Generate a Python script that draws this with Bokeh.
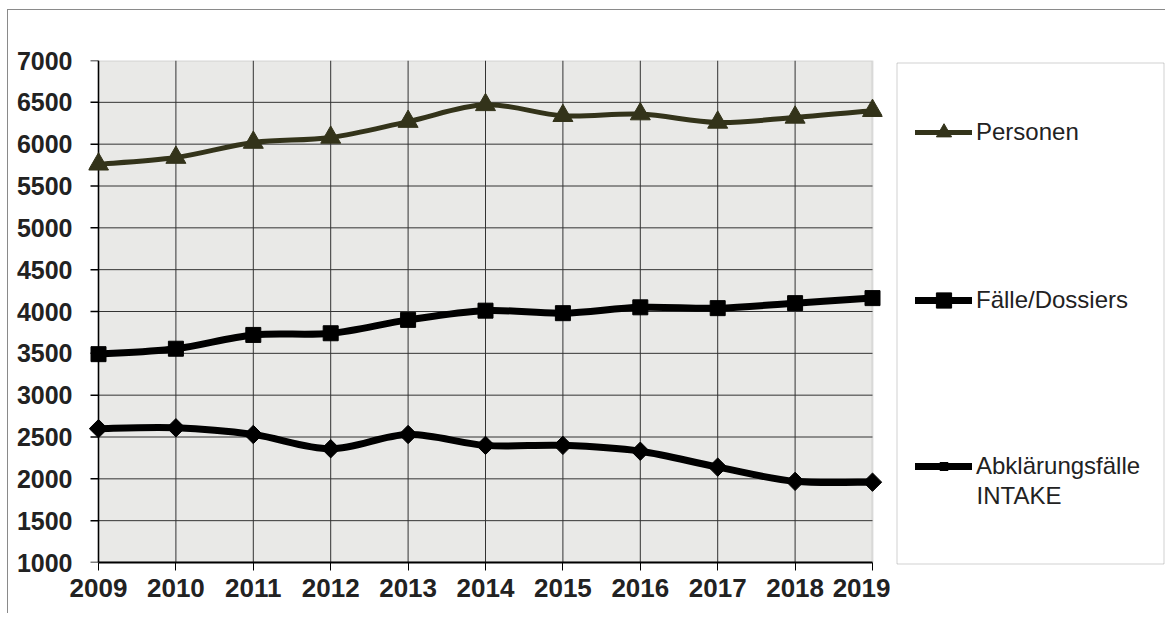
import numpy as np
from bokeh.plotting import figure
from bokeh.layouts import row, column
from bokeh.models import (Range1d, LinearAxis, FixedTicker, BoxAnnotation,
                          Legend, LegendItem, Label, Spacer)
from bokeh.embed import file_html
from bokeh.resources import INLINE

# ---- data ----
years = [2009, 2010, 2011, 2012, 2013, 2014, 2015, 2016, 2017, 2018, 2019]
personen = [5760, 5840, 6020, 6080, 6270, 6470, 6340, 6360, 6260, 6320, 6400]
faelle = [3490, 3555, 3720, 3740, 3900, 4010, 3980, 4050, 4040, 4100, 4160]
abklaerung = [2600, 2610, 2530, 2360, 2530, 2400, 2400, 2330, 2140, 1970, 1960]
y_ticks = [1000, 1500, 2000, 2500, 3000, 3500, 4000, 4500, 5000, 5500, 6000, 6500, 7000]
series_labels = ["Personen", "Fälle/Dossiers", "Abklärungsfälle"]
label_second_line = "INTAKE"

FONT = "Liberation Sans"
TXT = "#222222"
C_PERS = "#33331a"
C_BLACK = "#000000"


def smooth_segments(xs, ys):
    """Catmull-Rom style control points (Excel-like smoothed line)."""
    x = np.asarray(xs, float)
    y = np.asarray(ys, float)
    n = len(x)
    xp = np.concatenate([[x[0]], x, [x[-1]]])
    yp = np.concatenate([[y[0]], y, [y[-1]]])
    cx0 = x[:-1] + (xp[2:n + 1] - xp[0:n - 1]) / 6.0
    cy0 = y[:-1] + (yp[2:n + 1] - yp[0:n - 1]) / 6.0
    cx1 = x[1:] - (xp[3:n + 2] - xp[1:n]) / 6.0
    cy1 = y[1:] - (yp[3:n + 2] - yp[1:n]) / 6.0
    return dict(x0=x[:-1], y0=y[:-1], x1=x[1:], y1=y[1:],
                cx0=cx0, cy0=cy0, cx1=cx1, cy1=cy1)


px_per_year = 77.4
pad = 10 / px_per_year
tick_len = 8 / px_per_year

# ---------------- main chart ----------------
p = figure(frame_width=794, frame_height=502, output_backend="svg", toolbar_location=None,
           x_range=Range1d(years[0] - pad, years[-1] + pad),
           y_range=Range1d(y_ticks[0], y_ticks[-1]),
           x_axis_type=None, y_axis_type=None,
           min_border_left=80, min_border_right=8,
           min_border_top=50, min_border_bottom=48)
p.background_fill_color = "white"
p.border_fill_color = "white"
p.outline_line_color = None

# plot area (textured grey in original)
p.add_layout(BoxAnnotation(left=years[0], right=years[-1], bottom=y_ticks[0], top=y_ticks[-1],
                           fill_color="#e9e9e7", fill_alpha=1.0,
                           line_color="#9a9a9a", line_width=2, level="underlay"))

# grid lines
inner_y = y_ticks[1:-1]
p.segment(x0=[years[0]] * len(inner_y), x1=[years[-1]] * len(inner_y), y0=inner_y, y1=inner_y,
          line_color="#333333", line_width=1)
inner_x = years[1:-1]
p.segment(x0=inner_x, x1=inner_x, y0=[y_ticks[0]] * len(inner_x), y1=[y_ticks[-1]] * len(inner_x),
          line_color="#333333", line_width=1)

# value axis line + tick marks (at 2009)
p.segment(x0=[years[0] - tick_len] * len(y_ticks), x1=[years[0]] * len(y_ticks),
          y0=y_ticks, y1=y_ticks, line_color="black", line_width=1.5)
p.segment(x0=[years[0]], x1=[years[0]], y0=[y_ticks[0]], y1=[y_ticks[-1]],
          line_color="black", line_width=1.5)

# axes
yax = LinearAxis(ticker=FixedTicker(ticks=y_ticks))
yax.axis_line_color = None
yax.major_tick_line_color = None
yax.major_tick_out = 0
yax.major_tick_in = 0
yax.major_label_standoff = 16
yax.major_label_text_font_size = "25px"
xax = LinearAxis(ticker=FixedTicker(ticks=years), bounds=(years[0], years[-1]))
xax.axis_line_color = "black"
xax.axis_line_width = 2
xax.major_tick_line_color = "black"
xax.major_tick_out = 8
xax.major_tick_in = 0
xax.major_label_standoff = 8
xax.major_label_text_font_size = "26px"
for ax in (yax, xax):
    ax.minor_tick_line_color = None
    ax.major_label_text_font = FONT
    ax.major_label_text_font_style = "bold"
    ax.major_label_text_color = TXT
p.add_layout(yax, "left")
p.add_layout(xax, "below")

# ---------------- legend panel ----------------
LW, LH = 276, 506
lg = figure(frame_width=LW, frame_height=LH, output_backend="svg", toolbar_location=None,
            x_range=Range1d(0, LW), y_range=Range1d(0, LH),
            x_axis_type=None, y_axis_type=None,
            min_border_left=0, min_border_right=0,
            min_border_top=50, min_border_bottom=48)
lg.background_fill_color = "white"
lg.border_fill_color = "white"
lg.outline_line_color = None
lg.add_layout(BoxAnnotation(left=6.5, right=273.5, bottom=2.5, top=503.5,
                            fill_alpha=0, line_color="#666666", line_width=1))

specs = [
    (personen, C_PERS, 5, "triangle", 20, 0),
    (faelle, C_BLACK, 7, "square", 15, 0),
    (abklaerung, C_BLACK, 7, "square", 13, np.pi / 4),
]
legend_pos = [(25, 415), (25, 247), (25, 86)]
legend_glyph_h = [38, 38, 20]
for i, (vals, col, lw, mk, ms, ang) in enumerate(specs):
    p.bezier(line_color=col, line_width=lw, line_cap="round",
             **smooth_segments(years, vals))
    p.scatter(years, vals, marker=mk, size=ms, angle=ang,
              fill_color=col, line_color=col)
    # legend-only renderers (their data lies outside the legend panel's ranges)
    ln = lg.line(years, vals, line_color=col, line_width=lw, line_cap="round")
    sc = lg.scatter(years, vals, marker=mk, size=ms, angle=ang,
                    fill_color=col, line_color=col)
    leg = Legend(items=[LegendItem(label=series_labels[i], renderers=[ln, sc])],
                 location=legend_pos[i], orientation="vertical",
                 border_line_color=None, background_fill_alpha=0,
                 padding=0, margin=0, glyph_width=57, glyph_height=legend_glyph_h[i],
                 label_standoff=4, label_text_font=FONT,
                 label_text_font_size="24px", label_text_color=TXT)
    lg.add_layout(leg, "center")

lg.add_layout(Label(x=86, y=71, text=label_second_line,
                    text_baseline="middle", text_font=FONT, text_font_size="24px",
                    text_color=TXT))

chart = row(p, lg, spacing=0)
chart.styles = {"box-shadow": "-1px -1px 0px 0px #8a8a8a"}
layout = column(Spacer(height=10, width=10),
                row(Spacer(width=8, height=10), chart, spacing=0),
                spacing=0)

open("out.html", "w").write(file_html(layout, INLINE))
